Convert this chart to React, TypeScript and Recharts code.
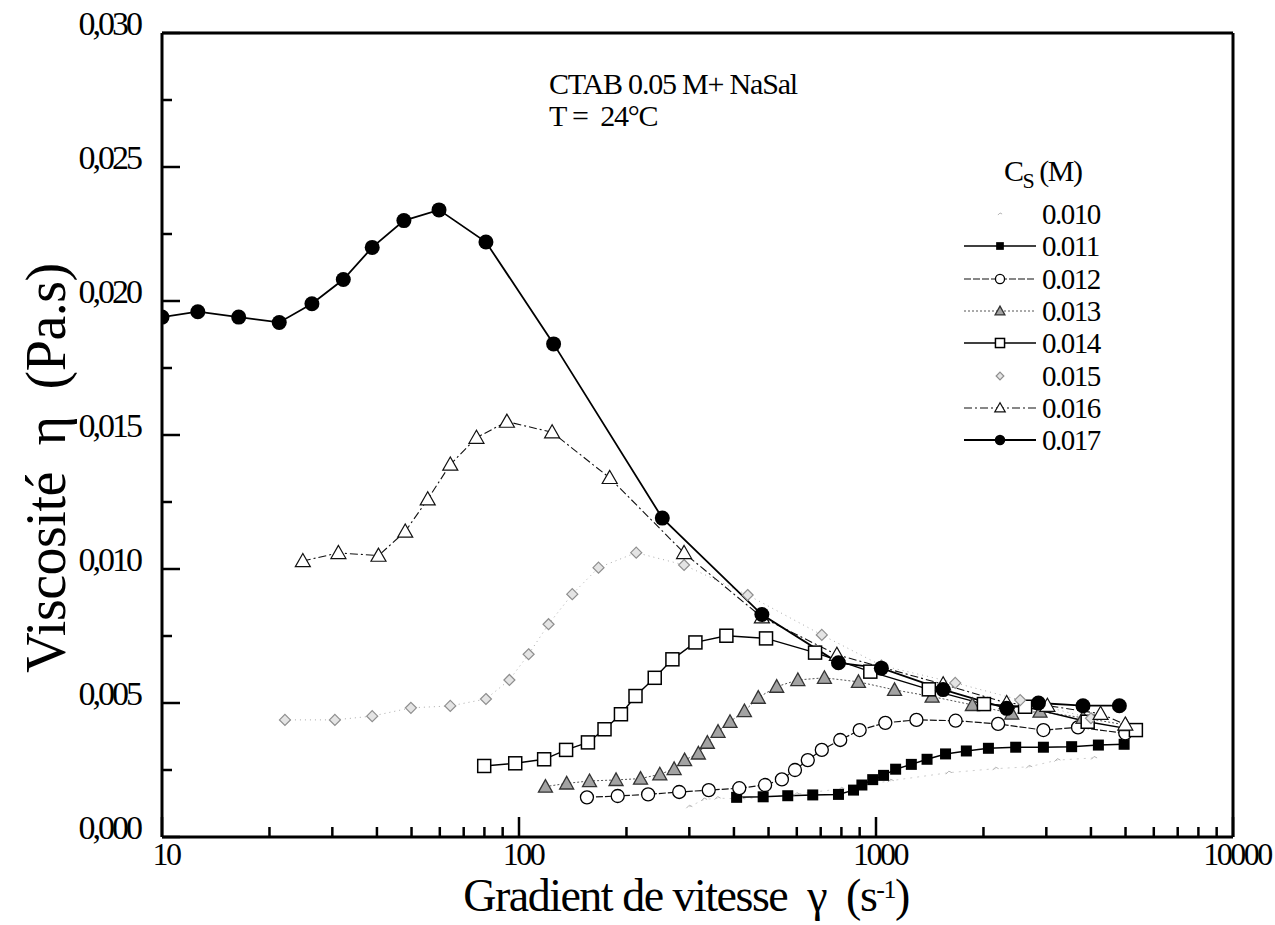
import { LineChart, Line, XAxis, YAxis, ReferenceLine } from "recharts";

// Viscosity vs shear rate, CTAB 0.05 M + NaSal, one curve per salt concentration.

const xMajorTicks = [10, 100, 1000, 10000];
const xMinorTicks = [20, 30, 40, 50, 60, 70, 80, 90, 200, 300, 400, 500, 600, 700, 800, 900, 2000, 3000, 4000, 5000, 6000, 7000, 8000, 9000];
const yTicks = [0, 0.0025, 0.005, 0.0075, 0.01, 0.0125, 0.015, 0.0175, 0.02, 0.0225, 0.025, 0.0275, 0.03];

const x010 = [300, 330, 360, 420, 480, 600, 800, 1100, 1600, 2163, 2686, 3222, 4083];
const y010 = [0.00113, 0.0014, 0.00145, 0.00142, 0.00148, 0.0016, 0.0018, 0.0021, 0.0024, 0.00255, 0.00262, 0.00287, 0.00295];

const x011 = [407, 483, 566, 665, 785, 865, 913, 979, 1050, 1135, 1256, 1390, 1566, 1791, 2065, 2462, 2944, 3532, 4197, 4955];
const y011 = [0.00148, 0.0015, 0.00154, 0.00157, 0.00159, 0.00175, 0.00194, 0.00214, 0.0023, 0.00253, 0.00271, 0.0029, 0.0031, 0.00321, 0.00331, 0.00335, 0.00335, 0.00337, 0.00343, 0.00346];

const x012 = [155, 189, 230, 281, 340, 414, 489, 545, 593, 644, 705, 794, 900, 1062, 1298, 1671, 2198, 2944, 3681, 4992];
const y012 = [0.00148, 0.00153, 0.00159, 0.00168, 0.00175, 0.00182, 0.00194, 0.00215, 0.0025, 0.00287, 0.00325, 0.00362, 0.00399, 0.00426, 0.00437, 0.00434, 0.00422, 0.00399, 0.00409, 0.00387];

const x013 = [118.6, 136, 157.6, 187, 219, 248, 272, 291, 318, 337, 361, 390, 428, 468, 527, 604, 717, 893, 1127, 1436, 1862, 2400, 2880, 3800, 5010];
const y013 = [0.00188, 0.002, 0.00209, 0.00213, 0.00218, 0.00234, 0.00254, 0.00287, 0.00312, 0.00352, 0.00393, 0.0043, 0.0047, 0.0052, 0.00561, 0.00586, 0.00594, 0.00579, 0.00549, 0.00524, 0.00493, 0.00461, 0.00468, 0.00445, 0.00418];

const x014 = [79.9, 97.6, 117.6, 135.5, 156, 173.6, 193, 212, 240, 269, 312, 381, 492, 675, 964, 1406, 2006, 2616, 3917, 5345];
const y014 = [0.00265, 0.00275, 0.0029, 0.00325, 0.00353, 0.00402, 0.00458, 0.00526, 0.00594, 0.00663, 0.00726, 0.00751, 0.00741, 0.00688, 0.00617, 0.00551, 0.00496, 0.00486, 0.0043, 0.00399];

const x015 = [22.1, 30.5, 38.8, 49.8, 64.2, 80.8, 94, 106.4, 121, 141, 167, 213, 290, 437, 705, 1035, 1667, 2535, 4000];
const y015 = [0.00437, 0.00437, 0.00451, 0.00482, 0.00489, 0.00515, 0.00586, 0.00682, 0.00794, 0.00906, 0.01005, 0.01061, 0.01015, 0.00903, 0.00754, 0.0064, 0.00575, 0.00511, 0.00443];

const x016 = [24.8, 31.2, 40.4, 48, 55.5, 64.2, 76, 92.5, 123.8, 179.5, 290, 479, 777, 1542, 2323, 3020, 4256, 4992];
const y016 = [0.0103, 0.0106, 0.0105, 0.0114, 0.0126, 0.0139, 0.0149, 0.0155, 0.0151, 0.0134, 0.0106, 0.0082, 0.0068, 0.0057, 0.005, 0.0049, 0.0046, 0.0042];

const x017 = [10, 12.6, 16.4, 21.3, 26.3, 32.2, 38.8, 47.6, 59.7, 80.8, 125, 252, 479, 785, 1035, 1542, 2323, 2851, 3800, 4805];
const y017 = [0.0194, 0.0196, 0.0194, 0.0192, 0.0199, 0.0208, 0.022, 0.023, 0.0234, 0.0222, 0.0184, 0.0119, 0.0083, 0.0065, 0.0063, 0.0055, 0.0048, 0.005, 0.0049, 0.0049];

type Kind = "tiny" | "fsq" | "ocirc" | "htri" | "osq" | "dia" | "otri" | "fcirc";

const rows = (xs: number[], ys: number[]) => xs.map((x, i) => ({ x, y: ys[i] }));

const series: {
  name: string;
  data: { x: number; y: number }[];
  kind: Kind;
  stroke: string;
  width: number;
  dash?: string;
  legendLine: boolean;
}[] = [
  { name: "0.010", data: rows(x010, y010), kind: "tiny", stroke: "#cfcfcf", width: 1, dash: "2 5", legendLine: false },
  { name: "0.011", data: rows(x011, y011), kind: "fsq", stroke: "#000", width: 1.5, legendLine: true },
  { name: "0.012", data: rows(x012, y012), kind: "ocirc", stroke: "#111", width: 1.2, dash: "7 2", legendLine: true },
  { name: "0.013", data: rows(x013, y013), kind: "htri", stroke: "#555", width: 1, dash: "2 2", legendLine: true },
  { name: "0.014", data: rows(x014, y014), kind: "osq", stroke: "#000", width: 1.4, legendLine: true },
  { name: "0.015", data: rows(x015, y015), kind: "dia", stroke: "#aaa", width: 1, dash: "1 4", legendLine: false },
  { name: "0.016", data: rows(x016, y016), kind: "otri", stroke: "#111", width: 1.1, dash: "8 3 2 3", legendLine: true },
  { name: "0.017", data: rows(x017, y017), kind: "fcirc", stroke: "#000", width: 1.8, legendLine: true },
];

function Marker({ kind, cx, cy, s = 1 }: { kind: Kind; cx: number; cy: number; s?: number }) {
  if (cx == null || cy == null) return null;
  switch (kind) {
    case "tiny":
      return <path d={`M${cx - 3 * s},${cy + 1.5 * s} L${cx},${cy - 1.5 * s} L${cx + 3 * s},${cy}`} stroke="#b5b5b5" strokeWidth={1} fill="none" />;
    case "fsq": {
      const w = 11 * s;
      return <rect x={cx - w / 2} y={cy - w / 2} width={w} height={w} fill="#000" />;
    }
    case "ocirc":
      return <circle cx={cx} cy={cy} r={6.5 * s} fill="#fff" stroke="#000" strokeWidth={1.3} />;
    case "htri": {
      const h = 7 * s;
      return (
        <polygon
          points={`${cx},${cy - h} ${cx - h},${cy + h * 0.8} ${cx + h},${cy + h * 0.8}`}
          fill="#a3a3a3"
          stroke="#333"
          strokeWidth={1.3}
        />
      );
    }
    case "osq": {
      const w = 13 * s;
      return <rect x={cx - w / 2} y={cy - w / 2} width={w} height={w} fill="#fff" stroke="#000" strokeWidth={1.5} />;
    }
    case "dia": {
      const h = 5.5 * s;
      return (
        <polygon
          points={`${cx},${cy - h} ${cx + h},${cy} ${cx},${cy + h} ${cx - h},${cy}`}
          fill="#e4e4e4"
          stroke="#8e8e8e"
          strokeWidth={1.2}
        />
      );
    }
    case "otri": {
      const h = 7.5 * s;
      return (
        <polygon
          points={`${cx},${cy - h} ${cx - h},${cy + h * 0.75} ${cx + h},${cy + h * 0.75}`}
          fill="#fff"
          stroke="#111"
          strokeWidth={1.2}
        />
      );
    }
    case "fcirc":
      return <circle cx={cx} cy={cy} r={7.5 * s} fill="#000" />;
  }
  return null;
}

const serif = "'Liberation Serif', 'DejaVu Serif', serif";

function XTick(props: any) {
  const { x, y, payload } = props;
  const v = payload.value as number;
  const major = xMajorTicks.includes(v);
  return (
    <g>
      <line x1={x} x2={x} y1={y} y2={y - (major ? 20 : 10)} stroke="#000" strokeWidth={2.5} />
      {major && (
        <text x={x + 4} y={y + 28} textAnchor="middle" fontFamily={serif} fontSize={32} letterSpacing={-2.5} fill="#000">
          {v}
        </text>
      )}
    </g>
  );
}

function YTick(props: any) {
  const { x, y, payload } = props;
  const v = payload.value as number;
  const major = Math.abs(v / 0.005 - Math.round(v / 0.005)) < 1e-6;
  return (
    <g>
      <line x1={x} x2={x + (major ? 18 : 10)} y1={y} y2={y} stroke="#000" strokeWidth={2.5} />
      {major && (
        <text x={x - 22} y={y + 2} textAnchor="end" fontFamily={serif} fontSize={34} letterSpacing={-3} fill="#000">
          {v.toFixed(3).replace(".", ",")}
        </text>
      )}
    </g>
  );
}

function LegendBox() {
  return (
    <div style={{ position: "absolute", left: 962, top: 154, fontFamily: serif, color: "#000" }}>
      <div style={{ marginLeft: 42, fontSize: 30, letterSpacing: -1.5, lineHeight: "34px" }}>
        C<sub style={{ fontSize: 22 }}>S</sub> (M)
      </div>
      {series.map((s) => (
        <div key={s.name} style={{ display: "flex", alignItems: "center", height: 32.3 }}>
          <svg width={76} height={20} style={{ display: "block" }}>
            {s.legendLine && (
              <line x1={2} x2={74} y1={10} y2={10} stroke={s.stroke} strokeWidth={s.width} strokeDasharray={s.dash} />
            )}
            <Marker kind={s.kind} cx={38} cy={10} s={0.7} />
          </svg>
          <span style={{ fontSize: 29, letterSpacing: -1.5, marginLeft: 4, lineHeight: "28px" }}>{s.name}</span>
        </div>
      ))}
    </div>
  );
}

export default function App() {
  return (
    <div style={{ position: "absolute", left: 0, top: 0, width: 1275, height: 925, background: "#fff" }}>
      <LineChart width={1275} height={925} margin={{ top: 33, right: 42, bottom: 0, left: 0 }}>
        <XAxis
          dataKey="x"
          type="number"
          scale="log"
          domain={[10, 10000]}
          allowDataOverflow
          ticks={[...xMajorTicks, ...xMinorTicks]}
          interval={0}
          height={88}
          tickSize={0}
          tickMargin={0}
          tick={<XTick />}
          tickLine={false}
          axisLine={{ stroke: "#000", strokeWidth: 3 }}
        />
        <YAxis
          dataKey="y"
          type="number"
          domain={[0, 0.03]}
          allowDataOverflow
          ticks={yTicks}
          interval={0}
          width={162}
          tickSize={0}
          tickMargin={0}
          tick={<YTick />}
          tickLine={false}
          axisLine={{ stroke: "#000", strokeWidth: 3 }}
        />
        <ReferenceLine y={0.03} stroke="#000" strokeWidth={3} />
        <ReferenceLine x={10000} stroke="#000" strokeWidth={3} />
        {series.map((s) => (
          <Line
            key={s.name}
            data={s.data}
            dataKey="y"
            name={s.name}
            type="linear"
            stroke={s.stroke}
            strokeWidth={s.width}
            strokeDasharray={s.dash}
            isAnimationActive={false}
            dot={(p: any) => <Marker key={`${s.name}-${p.index}`} kind={s.kind} cx={p.cx} cy={p.cy} />}
            activeDot={false}
          />
        ))}
      </LineChart>

      <div style={{ position: "absolute", left: 549, top: 68, fontFamily: serif, fontSize: 30, letterSpacing: -1.2, lineHeight: "32px", color: "#000" }}>
        <div>CTAB 0.05 M+ NaSal</div>
        <div>T =&nbsp; 24°C</div>
      </div>

      <LegendBox />

      <div
        style={{
          position: "absolute",
          left: 686,
          top: 896,
          transform: "translate(-50%, -50%)",
          fontFamily: serif,
          fontSize: 46,
          letterSpacing: -1.5,
          whiteSpace: "pre",
          lineHeight: "36px",
          color: "#000",
        }}
      >
        {"Gradient de vitesse  γ  (s"}
        <sup style={{ fontSize: 26, lineHeight: 0, verticalAlign: "0.5em" }}>-1</sup>
        {")"}
      </div>

      <div
        style={{
          position: "absolute",
          left: 46,
          top: 468,
          transform: "translate(-50%, -50%) rotate(-90deg)",
          fontFamily: serif,
          fontSize: 56,
          letterSpacing: -0.5,
          whiteSpace: "pre",
          lineHeight: "60px",
          color: "#000",
        }}
      >
        {"Viscosité  η  (Pa.s)"}
      </div>
    </div>
  );
}
